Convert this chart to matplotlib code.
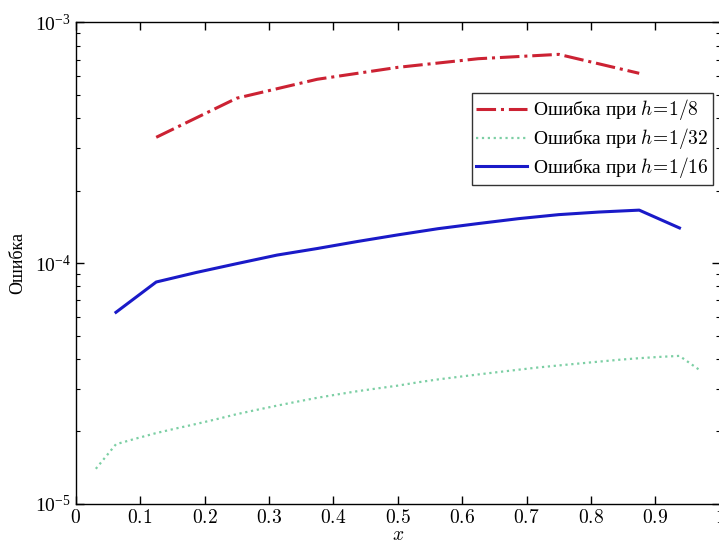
import numpy as np
import matplotlib
matplotlib.use("Agg")
import matplotlib.pyplot as plt
from matplotlib.ticker import FuncFormatter, LogLocator

plt.rcParams['font.family'] = ['Liberation Serif', 'DejaVu Serif']
plt.rcParams['mathtext.fontset'] = 'cm'

# узлы сетки и ошибки для трёх шагов
x_h8 = [0.125, 0.25, 0.375, 0.5, 0.625, 0.75, 0.875]
err_h8 = [3.33e-4, 4.84e-4, 5.80e-4, 6.50e-4, 7.06e-4, 7.36e-4, 6.14e-4]

x_h16 = [0.0625, 0.125, 0.1875, 0.25, 0.3125, 0.375, 0.4375, 0.5,
         0.5625, 0.625, 0.6875, 0.75, 0.8125, 0.875, 0.9375]
err_h16 = [6.25e-5, 8.35e-5, 9.15e-5, 9.95e-5, 1.08e-4, 1.15e-4, 1.23e-4, 1.31e-4,
           1.39e-4, 1.46e-4, 1.53e-4, 1.59e-4, 1.63e-4, 1.66e-4, 1.40e-4]

x_h32 = [0.03125, 0.0625, 0.09375, 0.125, 0.15625, 0.1875, 0.21875, 0.25,
         0.28125, 0.3125, 0.34375, 0.375, 0.40625, 0.4375, 0.46875, 0.5,
         0.53125, 0.5625, 0.59375, 0.625, 0.65625, 0.6875, 0.71875, 0.75,
         0.78125, 0.8125, 0.84375, 0.875, 0.90625, 0.9375, 0.96875]
err_h32 = [1.40e-5, 1.77e-5, 1.87e-5, 1.97e-5, 2.06e-5, 2.15e-5, 2.25e-5, 2.36e-5,
           2.46e-5, 2.56e-5, 2.66e-5, 2.76e-5, 2.85e-5, 2.94e-5, 3.02e-5, 3.10e-5,
           3.20e-5, 3.29e-5, 3.37e-5, 3.45e-5, 3.53e-5, 3.61e-5, 3.69e-5, 3.76e-5,
           3.83e-5, 3.90e-5, 3.97e-5, 4.03e-5, 4.08e-5, 4.12e-5, 3.60e-5]

x_ticks = [0, 0.1, 0.2, 0.3, 0.4, 0.5, 0.6, 0.7, 0.8, 0.9, 1.0]

fig = plt.figure(figsize=(7.19, 5.40), dpi=100)
ax = fig.add_axes([0.1053, 0.0667, 0.8957, 0.892])

ax.plot(x_h8, err_h8, linestyle='-.', color='#cc2233', lw=2.2,
        label=r'Ошибка при $h\!=\!1/8$')
ax.plot(x_h32, err_h32, linestyle=':', color='#7ccfa4', lw=1.6,
        label=r'Ошибка при $h\!=\!1/32$')
ax.plot(x_h16, err_h16, linestyle='-', color='#1a1ac8', lw=2.2,
        label=r'Ошибка при $h\!=\!1/16$')

ax.set_yscale('log')
ax.set_xlim(0, 1)
ax.set_ylim(1e-5, 1e-3)
ax.set_xticks(x_ticks)
ax.xaxis.set_major_formatter(FuncFormatter(lambda v, p: '$0$' if v == 0 else f'${v:g}$'))
ax.yaxis.set_minor_locator(LogLocator(base=10, subs=np.arange(2, 10)))

ax.tick_params(which='both', direction='in', top=True, right=True, labelsize=14)
ax.tick_params(which='major', length=6, width=1)
ax.tick_params(which='minor', length=3, width=0.8)
for s in ax.spines.values():
    s.set_linewidth(1.0)

ax.set_xlabel('$x$', fontsize=14, labelpad=0)
ax.set_ylabel('Ошибка', fontsize=13, labelpad=6)

leg = ax.legend(loc='upper right', bbox_to_anchor=(0.99, 0.854), fontsize=14,
                frameon=True, fancybox=False, edgecolor='black',
                handlelength=2.6, handletextpad=0.3, borderpad=0.25,
                labelspacing=0.2, borderaxespad=0.0)
leg.get_frame().set_linewidth(1.0)

plt.savefig('out.png', dpi=100)
plt.close()
